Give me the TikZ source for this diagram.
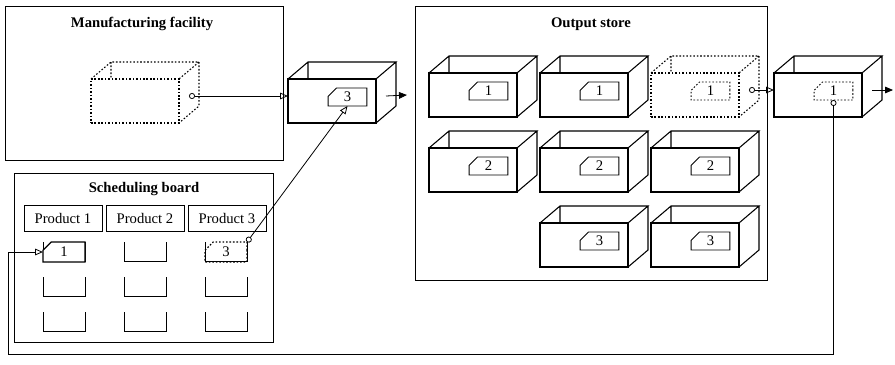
\documentclass[tikz,border=0pt]{standalone}
\usepackage{fontspec}
\setmainfont{Liberation Serif}
\usetikzlibrary{arrows.meta,shapes.misc}

\begin{document}
\begin{tikzpicture}[x=0.75pt,y=-0.75pt,
	font=\fontsize{11}{13}\selectfont,
	panel/.style={draw,line width=0.7pt},
	heading/.style={font=\fontsize{11}{13}\selectfont\bfseries},
	front/.style={draw,line width=0.8pt,minimum width=66pt,minimum height=33pt,
		anchor=north west,inner sep=0pt,outer sep=0pt},
	ghost/.style={dash pattern=on 1.2pt off 1.4pt},
	tag/.style={chamfered rectangle,chamfered rectangle corners=north west,
		chamfered rectangle xsep=3.5pt,chamfered rectangle ysep=3.5pt,draw,line width=0.7pt,
		minimum width=29pt,minimum height=13.5pt,inner sep=0pt,outer sep=0pt},
	header/.style={draw,line width=0.6pt,minimum width=58.5pt,minimum height=19.5pt,inner sep=0pt},
	flow/.style={line width=0.6pt},
	]
	\useasboundingbox (0,0) rectangle (895,364);
	
	% open crate: name, x, y (front top left), style
	\def\crate#1#2#3#4{%
		\node[front,#4] (#1) at (#2,#3) {};
		\draw[line width=0.8pt,#4] (#1.north west) -- ++(20,-17) coordinate (#1b) -- ++(88,0) -- (#1.north east)
			(#1.north east) ++(20,-17) -- ++(0,44) -- (#1.south east)
			(#1b) -- ++(0,17);
	}
	
	% Panels
	\draw[panel] (5,6) rectangle (283,160);
	\draw[panel] (14,173) rectangle (273,342);
	\draw[panel] (415,6) rectangle (767,280);
	\node[heading] (mfgtitle) at (142,24) {Manufacturing facility};
	\node[heading] (boardtitle) at (144,189) {Scheduling board};
	\node[heading] (storetitle) at (591,24) {Output store};
	
	% Manufacturing facility
	\crate{mfg}{91}{79}{ghost}
	
	% Crates in transfer
	\crate{tr1}{288}{79}{}
	\node[tag] (tr1t) at ([shift={(15.5,-4)}]tr1.center) {3};
	\crate{tr2}{774}{73}{}
	\node[tag,ghost] (tr2t) at ([shift={(15.5,-4)}]tr2.center) {1};
	
	% Output store
	\foreach \n/\x/\y/\l in {sa/429/73/1, sb/540/73/1, sd/429/148/2, se/540/148/2,
		sf/651/148/2, sg/540/223/3, sh/651/223/3} {
		\crate{\n}{\x}{\y}{}
		\node[tag] (\n t) at ([shift={(15.5,-4)}]\n.center) {\l};
	}
	\crate{sc}{651}{73}{ghost}
	\node[tag,ghost] (sct) at ([shift={(15.5,-4)}]sc.center) {1};
	
	% Scheduling board
	\foreach \x/\p in {63/1,145/2,227/3}
		\node[header] (prod\p) at (\x,218) {Product \p};
	\foreach \x in {64,145,226}
		\foreach \y in {242,277,312}
			\draw[line width=0.7pt] (\x-21,\y) -- (\x-21,\y+19) -- (\x+21,\y+19) -- (\x+21,\y);
	\node[tag,fill=white,line width=0.9pt,minimum width=31.5pt,minimum height=15pt] (bt1) at (64,252) {1};
	\node[tag,ghost,line width=0.9pt,minimum width=31.5pt,minimum height=15pt] (bt3) at (226,252) {3};
	
	% Connectors
	\coordinate (mfgside) at ([shift={(10,-5)}]mfg.east);
	\coordinate (tr1side) at ([shift={(10,-5)}]tr1.east);
	\coordinate (tr2side) at ([shift={(10,-5)}]tr2.east);
	\coordinate (scside) at ([shift={(10,-5)}]sc.east);
	\coordinate (out1) at (407,95);
	\coordinate (out2) at (893,90);
	\coordinate (loop) at (8,354);
	\draw[flow,{Circle[open,length=4.5pt]}-{Triangle[open,length=6pt,width=5pt]}] (mfgside) -- (mfgside -| tr1.west);
	\draw[flow,-{Triangle[length=6pt,width=5pt]}] (tr1side) -- (out1);
	\draw[flow,{Circle[open,length=4.5pt]}-{Triangle[open,length=6pt,width=5pt]}] (bt3.north east) -- (tr1t.south);
	\draw[flow,{Circle[open,length=4.5pt]}-{Triangle[open,length=6pt,width=5pt]}] (scside) -- (scside -| tr2.west);
	\draw[flow,-{Triangle[length=6pt,width=5pt]}] (tr2side) -- (out2);
	\draw[flow,{Circle[open,length=4.5pt]}-{Triangle[open,length=6pt,width=5pt]}] (tr2t.south) |- (loop) |- (bt1.west);
\end{tikzpicture}
\end{document}
